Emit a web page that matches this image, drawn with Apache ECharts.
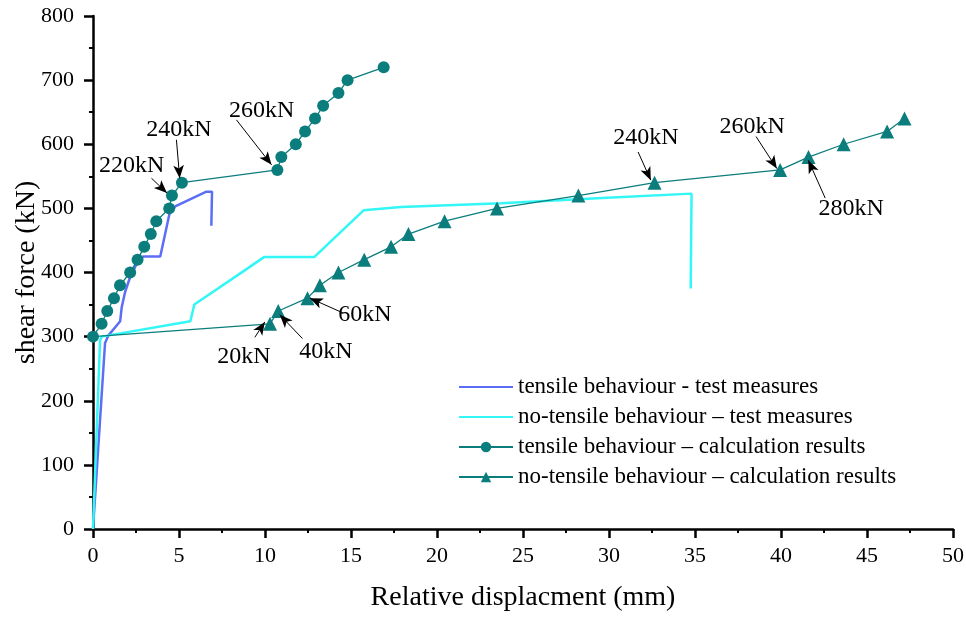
<!DOCTYPE html>
<html>
<head>
<meta charset="utf-8">
<script src="https://cdn.jsdelivr.net/npm/echarts@6/dist/echarts.min.js"></script>
<style>html,body{margin:0;padding:0;background:#fff;}#c{width:966px;height:619px;}</style>
</head>
<body>
<div id="c"></div>
<script>
// ---- data ----
const tensileTestX = [0, 0.7, 0.9, 1.58, 1.67, 1.87, 2.16, 2.55, 2.93, 3.91, 4.45, 4.78, 6.59, 6.92, 6.88];
const tensileTestY = [0, 290, 302, 324, 346, 370, 393, 414, 425, 425, 492, 503, 526, 526, 473];

const noTensileTestX = [0, 0.41, 0.5, 5.66, 5.89, 8.97, 9.94, 12.86, 15.73, 17.9, 23.75, 29.6, 34.8, 34.75];
const noTensileTestY = [0, 294, 300, 324, 350, 406, 424, 424, 497, 502, 508, 516, 523, 375];

const tensileCalcX = [0, 0.5, 0.83, 1.22, 1.57, 2.16, 2.59, 2.98, 3.36, 3.68, 4.43, 4.59, 5.17, 10.72, 10.95, 11.79, 12.33, 12.91, 13.38, 14.27, 14.8, 16.9];
const tensileCalcY = [300, 320, 340, 360, 380, 400, 420, 440, 460, 480, 500, 520, 540, 560, 580, 600, 620, 640, 660, 680, 700, 720];

const noTensileCalcX = [0, 10.29, 10.77, 12.47, 13.19, 14.27, 15.77, 17.33, 18.34, 20.44, 23.49, 28.22, 32.65, 39.95, 41.6, 43.64, 46.17, 47.18];
const noTensileCalcY = [300, 320, 340, 360, 380, 400, 420, 440, 460, 480, 500, 520, 540, 560, 580, 600, 620, 640];

const seriesNames = [
  'tensile behaviour - test measures',
  'no-tensile behaviour \u2013 test measures',
  'tensile behaviour \u2013 calculation results',
  'no-tensile behaviour \u2013 calculation results'
];

// annotation labels: text, text anchor (data units), arrow start, arrow tip
const annoText = ['220kN', '240kN', '260kN', '240kN', '260kN', '280kN', '60kN', '40kN', '20kN'];
const annoTextPos = [[2.25, 567], [5.0, 622], [9.81, 653], [32.15, 610], [38.32, 628], [44.08, 500], [15.81, 334], [13.54, 276], [8.77, 268]];
const annoFrom = [[3.40, 547], [4.85, 607], [8.34, 638], [31.69, 588], [38.55, 612], [42.57, 516], [14.53, 337], [12.18, 297], [9.41, 299]];
const annoTo = [[4.30, 524], [5.04, 547], [10.38, 568], [32.43, 544], [39.76, 562], [41.59, 575], [12.61, 360], [10.86, 334], [9.99, 323]];

const xTicks = { min: 0, max: 50, interval: 5 };
const yTicks = { min: 0, max: 800, interval: 100 };

// ---- build ----
const zip = (xs, ys) => xs.map((x, i) => [x, ys[i]]);
const FONT = 'Liberation Serif';
const TEAL = '#0b7d7d';
const BLUE = '#5c6ef6';
const CYAN = '#33f6f6';

const axisCommon = {
  axisLine: { show: true, onZero: false, lineStyle: { color: '#000', width: 2.5 } },
  axisTick: { show: true, inside: false, length: 9, lineStyle: { color: '#000', width: 2.5 } },
  minorTick: { show: true, splitNumber: 2, length: 4, lineStyle: { color: '#000', width: 2 } },
  splitLine: { show: false },
  minorSplitLine: { show: false },
  nameMoveOverlap: false
};

const option = {
  animation: false,
  backgroundColor: '#fff',
  textStyle: { fontFamily: FONT },
  grid: { left: 93, right: 13, top: 16, bottom: 90, containLabel: false, outerBoundsMode: 'none' },
  xAxis: Object.assign({
    type: 'value', min: xTicks.min, max: xTicks.max, interval: xTicks.interval,
    name: 'Relative displacment (mm)', nameLocation: 'middle', nameGap: 55,
    nameTextStyle: { fontFamily: FONT, fontSize: 28, color: '#000' },
    axisLabel: { fontFamily: FONT, fontSize: 22, color: '#000', margin: 16 }
  }, axisCommon),
  yAxis: Object.assign({
    type: 'value', min: yTicks.min, max: yTicks.max, interval: yTicks.interval,
    name: 'shear force (kN)', nameLocation: 'middle', nameGap: 52,
    nameTextStyle: { fontFamily: FONT, fontSize: 28, color: '#000' },
    axisLabel: { fontFamily: FONT, fontSize: 22, color: '#000', margin: 19 }
  }, axisCommon),
  legend: {
    orient: 'vertical', left: 458, top: 375, padding: 0,
    itemWidth: 54, itemHeight: 13, itemGap: 6,
    data: [
      { name: seriesNames[0], itemStyle: { opacity: 0 } },
      { name: seriesNames[1], itemStyle: { opacity: 0 } },
      { name: seriesNames[2] },
      { name: seriesNames[3] }
    ],
    textStyle: { fontFamily: FONT, fontSize: 23, color: '#000', lineHeight: 24 }
  },
  series: [
    {
      name: seriesNames[0], type: 'line', data: zip(tensileTestX, tensileTestY),
      symbol: 'circle', showSymbol: false, lineStyle: { color: BLUE, width: 2.5 }, itemStyle: { color: BLUE }, z: 2
    },
    {
      name: seriesNames[1], type: 'line', data: zip(noTensileTestX, noTensileTestY),
      symbol: 'circle', showSymbol: false, lineStyle: { color: CYAN, width: 2.5 }, itemStyle: { color: CYAN }, z: 2
    },
    {
      name: seriesNames[3], type: 'line', data: zip(noTensileCalcX, noTensileCalcY),
      symbol: 'triangle', showAllSymbol: true, clip: false,
      // the shared start point is hidden under the circle series' first marker
      symbolSize: (v, p) => (p.dataIndex === 0 ? 0 : 14),
      lineStyle: { color: TEAL, width: 1.3 }, itemStyle: { color: TEAL }, z: 3
    },
    {
      name: seriesNames[2], type: 'line', data: zip(tensileCalcX, tensileCalcY),
      symbol: 'circle', symbolSize: 12, showAllSymbol: true, clip: false,
      lineStyle: { color: TEAL, width: 1.3 }, itemStyle: { color: TEAL }, z: 4
    },
    {
      name: 'annotations', type: 'line', data: [], silent: true, z: 5,
      markLine: {
        silent: true, animation: false,
        symbol: ['none', 'arrow'], symbolSize: [8, 13],
        lineStyle: { color: '#000', width: 1, type: 'solid' },
        label: { show: false },
        data: annoFrom.map((f, i) => [{ coord: f }, { coord: annoTo[i] }])
      },
      markPoint: {
        silent: true, animation: false, symbol: 'circle', symbolSize: 0,
        label: { show: true, position: 'inside', formatter: '{b}', color: '#000', fontFamily: FONT, fontSize: 24 },
        data: annoText.map((t, i) => ({ name: t, coord: annoTextPos[i] }))
      }
    }
  ]
};

const chart = echarts.init(document.getElementById('c'), null, { renderer: 'canvas' });
chart.setOption(option);
</script>
</body>
</html>
